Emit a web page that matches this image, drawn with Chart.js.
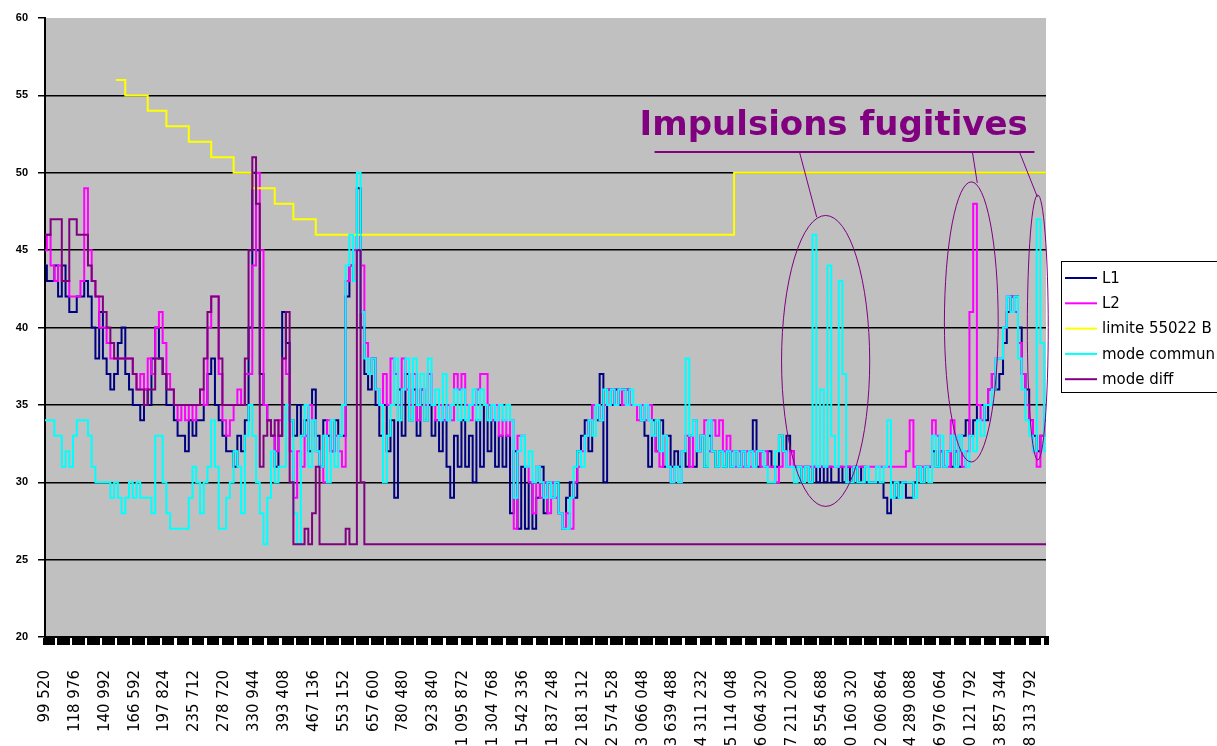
<!DOCTYPE html>
<html lang="fr">
<head>
<meta charset="utf-8">
<title>Émissions conduites</title>
<script src="https://cdn.jsdelivr.net/npm/chart.js@4.4.1/dist/chart.umd.min.js"></script>
<style>
  html, body { margin: 0; padding: 0; background: #fff; overflow: hidden; }
  #wrap { position: relative; width: 1217px; height: 746px; }
  canvas { display: block; }
</style>
</head>
<body>
<div id="wrap"><canvas id="c" width="1217" height="746"></canvas></div>
<script>
// Frequency labels (Hz), one every 8 measurement points
const tickLabels = [
  '99 520', '118 976', '140 992', '166 592', '197 824', '235 712', '278 720', '330 944',
  '393 408', '467 136', '553 152', '657 600', '780 480', '923 840', '1 095 872', '1 304 768',
  '1 542 336', '1 837 248', '2 181 312', '2 574 528', '3 066 048', '3 639 488', '4 311 232', '5 114 048',
  '6 064 320', '7 211 200', '8 554 688', '10 160 320', '12 060 864', '14 289 088', '16 976 064', '20 121 792',
  '23 857 344', '28 313 792'
];

// Levels in dBµV, one row per 8 points
const L1 = [
  44,43,43,44,42,44,42,41,  41,42,42,43,42,40,38,41,  38,37,36,37,39,40,37,36,  35,35,34,36,35,38,40,38,
  37,35,35,34,33,33,32,34,  33,34,34,35,37,38,35,34,  33,32,32,31,33,32,34,40,  50,45,37,35,34,33,31,33,
  41,39,34,33,35,33,34,32,  36,33,31,34,33,32,34,33,  33,42,44,43,49,40,37,36,  38,35,33,35,32,34,29,36,
  33,37,34,36,33,36,34,35,  33,34,32,34,31,29,33,31,  34,31,33,30,34,31,35,32,  34,31,33,31,33,28,32,27,
  31,27,30,27,29,31,28,30,  29,30,28,27,29,30,29,32,  33,34,32,35,34,37,30,36,  35,36,35,36,36,35,35,35,
  34,33,31,34,32,34,31,33,  31,32,31,32,31,33,31,32,  33,31,33,32,31,32,31,32,  31,32,31,32,31,32,34,31,
  32,31,32,31,31,33,32,33,  32,31,31,30,31,30,31,30,  31,30,31,30,30,31,30,31,  30,31,30,31,30,30,30,30,
  30,29,28,30,29,30,30,29,  29,30,31,30,31,31,32,31,  32,31,32,31,32,31,33,34,  33,34,35,35,34,36,37,36,
  37,39,41,42,42,40,37,36,  34,33,32,33,34
];

const L2 = [
  45,46,44,43,44,43,43,42,  42,42,43,49,45,43,42,40,  40,39,38,38,38,38,38,38,  37,36,37,36,38,37,40,41,
  39,37,36,35,34,35,34,35,  34,35,36,35,40,42,42,37,  34,33,34,35,36,35,37,37,  44,50,45,35,34,33,32,34,
  38,37,32,29,32,31,33,35,  34,32,31,30,34,32,33,32,  31,43,44,45,46,44,39,37,  38,36,35,37,35,38,37,35,
  38,36,35,37,34,36,35,37,  35,34,35,34,35,34,37,36,  37,35,34,35,36,37,37,35,  34,35,33,34,33,34,27,33,
  33,31,30,28,31,29,30,28,  30,29,28,27,28,27,30,31,  32,33,34,35,35,34,35,36,  36,35,36,35,36,35,35,34,
  35,34,35,33,32,31,33,31,  30,31,30,32,33,31,34,32,  33,34,32,34,33,34,32,33,  32,31,32,31,32,31,32,32,
  31,32,31,31,30,31,32,31,  32,31,31,31,31,31,31,31,  31,31,31,31,31,31,31,31,  31,31,31,31,31,31,31,31,
  31,31,31,31,31,31,31,32,  34,31,31,31,31,31,34,33,  32,31,31,34,32,33,31,32,  41,48,35,34,35,36,37,38,
  38,40,42,42,41,39,37,35,  34,32,31,33,35
];

// EN 55022 class B limit
const limite = [
  null,null,null,null,null,null,null,null,  null,null,null,null,null,null,null,null,
  null,null,null,56,56,56,55,55,  55,55,55,55,54,54,54,54,
  54,53,53,53,53,53,53,52,  52,52,52,52,52,51,51,51,  51,51,51,50,50,50,50,50,  49,49,49,49,49,49,48,48,
  48,48,48,47,47,47,47,47,  47,46,46,46,46,46,46,46,  46,46,46,46,46,46,46,46,  46,46,46,46,46,46,46,46,
  46,46,46,46,46,46,46,46,  46,46,46,46,46,46,46,46,  46,46,46,46,46,46,46,46,  46,46,46,46,46,46,46,46,
  46,46,46,46,46,46,46,46,  46,46,46,46,46,46,46,46,  46,46,46,46,46,46,46,46,  46,46,46,46,46,46,46,46,
  46,46,46,46,46,46,46,46,  46,46,46,46,46,46,46,46,  46,46,46,46,46,46,46,46,  46,50,50,50,50,50,50,50,
  50,50,50,50,50,50,50,50,  50,50,50,50,50,50,50,50,  50,50,50,50,50,50,50,50,  50,50,50,50,50,50,50,50,
  50,50,50,50,50,50,50,50,  50,50,50,50,50,50,50,50,  50,50,50,50,50,50,50,50,  50,50,50,50,50,50,50,50,
  50,50,50,50,50,50,50,50,  50,50,50,50,50
];

const modeCommun = [
  34,34,34,33,33,31,32,31,  33,34,34,34,33,31,30,30,  30,30,29,30,29,28,29,30,  29,30,29,29,29,28,33,33,
  30,28,27,27,27,27,27,29,  31,30,28,30,31,34,31,27,  27,29,30,32,31,28,33,35,  33,30,28,26,29,32,30,31,
  31,35,34,28,26,33,35,31,  34,32,31,33,30,34,31,33,  35,44,46,43,50,41,38,37,  38,36,35,30,33,35,38,34,
  36,38,34,38,35,37,34,38,  35,36,34,37,34,35,36,34,  36,34,35,36,34,36,35,34,  35,34,35,34,35,34,29,32,
  33,31,32,30,31,30,29,30,  29,30,28,27,27,29,31,32,  31,33,34,33,35,34,36,35,  36,35,36,36,35,36,35,35,
  34,35,34,33,34,32,33,31,  30,31,30,32,38,33,34,32,  33,31,34,32,31,32,31,32,  31,32,31,32,31,32,31,32,
  32,31,30,30,32,33,32,31,  31,30,31,30,31,30,46,31,  36,31,44,33,31,43,37,30,  30,31,30,30,31,30,30,31,
  30,31,34,29,30,29,30,30,  30,29,31,30,31,30,33,31,  33,31,32,33,31,33,32,31,  33,32,34,33,35,35,36,38,
  38,40,42,41,42,38,36,34,  33,32,47,39,32
];

const modeDiff = [
  46,46,47,47,47,43,43,47,  47,46,46,46,44,43,42,42,  41,40,39,38,38,38,38,38,  37,36,36,35,36,36,38,38,
  37,36,36,35,35,35,35,35,  35,35,36,38,41,42,42,38,  35,35,35,35,35,35,38,45,  51,48,31,33,34,33,34,33,
  38,41,30,26,26,26,27,26,  28,31,26,26,26,26,26,26,  26,27,26,26,45,30,26,26,  26,26,26,26,26,26,26,26,
  26,26,26,26,26,26,26,26,  26,26,26,26,26,26,26,26,  26,26,26,26,26,26,26,26,  26,26,26,26,26,26,26,26,
  26,26,26,26,26,26,26,26,  26,26,26,26,26,26,26,26,  26,26,26,26,26,26,26,26,  26,26,26,26,26,26,26,26,
  26,26,26,26,26,26,26,26,  26,26,26,26,26,26,26,26,  26,26,26,26,26,26,26,26,  26,26,26,26,26,26,26,26,
  26,26,26,26,26,26,26,26,  26,26,26,26,26,26,26,26,  26,26,26,26,26,26,26,26,  26,26,26,26,26,26,26,26,
  26,26,26,26,26,26,26,26,  26,26,26,26,26,26,26,26,  26,26,26,26,26,26,26,26,  26,26,26,26,26,26,26,26,
  26,26,26,26,26,26,26,26,  26,26,26,26,26
];

const seriesNames = ['L1', 'L2', 'limite 55022 B', 'mode commun', 'mode diff'];
const seriesColors = ['#000080', '#FF00FF', '#FFFF00', '#00FFFF', '#800080'];
const seriesData = [L1, L2, limite, modeCommun, modeDiff];

// Caption and highlighted zones, in data units (point index, dBµV)
const caption = { text: 'Impulsions fugitives', x: 159.2, y: 52.45 };
const captionRule = { x0: 163.2, x1: 264.9, y: 51.34 };
const leaders = [
  [202.0, 51.34, 206.6, 47.14],
  [248.3, 51.34, 249.6, 49.34],
  [260.9, 51.34, 265.7, 48.43]
];
const rings = [
  { cx: 209.0, cy: 37.84, rx: 11.8, ry: 9.4 },
  { cx: 248.0, cy: 40.36, rx: 7.2, ry: 9.05 },
  { cx: 265.8, cy: 40.0, rx: 2.8, ry: 8.56 }
];

const LABEL_EVERY = 8;
const categories = L1.map((_, i) => (i % LABEL_EVERY === 0 ? (tickLabels[i / LABEL_EVERY] || '') : ''));

const PLOT_BG = '#C0C0C0';
const ACCENT = '#800080';

const plotBackground = {
  id: 'plotBackground',
  beforeDraw(chart) {
    const { ctx, chartArea: a } = chart;
    ctx.save();
    ctx.fillStyle = '#FFFFFF';
    ctx.fillRect(0, 0, chart.width, chart.height);
    ctx.fillStyle = PLOT_BG;
    ctx.fillRect(a.left, a.top, a.right - a.left, a.bottom - a.top);
    ctx.restore();
  }
};

const notes = {
  id: 'notes',
  afterDatasetsDraw(chart) {
    const { ctx } = chart;
    const xs = chart.scales.x, ys = chart.scales.y;
    const px = v => xs.getPixelForValue(v);
    const py = v => ys.getPixelForValue(v);
    ctx.save();
    ctx.strokeStyle = ACCENT;
    ctx.lineWidth = 1;
    rings.forEach(r => {
      const cx = px(r.cx), cy = py(r.cy);
      const rx = Math.abs(px(r.cx + r.rx) - cx), ry = Math.abs(py(r.cy + r.ry) - cy);
      ctx.beginPath();
      ctx.ellipse(cx, cy, rx, ry, 0, 0, Math.PI * 2);
      ctx.stroke();
    });
    leaders.forEach(l => {
      ctx.beginPath();
      ctx.moveTo(px(l[0]), py(l[1]));
      ctx.lineTo(px(l[2]), py(l[3]));
      ctx.stroke();
    });
    ctx.lineWidth = 2;
    ctx.beginPath();
    ctx.moveTo(px(captionRule.x0), py(captionRule.y));
    ctx.lineTo(px(captionRule.x1), py(captionRule.y));
    ctx.stroke();
    ctx.fillStyle = ACCENT;
    ctx.font = 'bold 34px "DejaVu Sans"';
    ctx.textBaseline = 'alphabetic';
    ctx.textAlign = 'left';
    ctx.fillText(caption.text, px(caption.x), py(caption.y));
    ctx.restore();
  }
};

const boxLegend = {
  id: 'boxLegend',
  afterDraw(chart) {
    const { ctx, chartArea: a } = chart;
    const left = a.right + 15, top = 261, height = 131, rowGap = 25.3;
    ctx.save();
    ctx.strokeStyle = '#000';
    ctx.lineWidth = 1;
    ctx.strokeRect(left + 0.5, top + 0.5, 300, height);
    ctx.font = '15px "DejaVu Sans"';
    ctx.textBaseline = 'middle';
    ctx.textAlign = 'left';
    chart.data.datasets.forEach((ds, k) => {
      const y = top + 17 + rowGap * k;
      ctx.strokeStyle = ds.borderColor;
      ctx.lineWidth = 2;
      ctx.beginPath();
      ctx.moveTo(left + 4, y);
      ctx.lineTo(left + 36, y);
      ctx.stroke();
      ctx.fillStyle = '#000';
      ctx.fillText(ds.label, left + 41, y + 1);
    });
    ctx.restore();
  }
};

new Chart(document.getElementById('c'), {
  type: 'line',
  data: {
    labels: categories,
    datasets: seriesData.map((d, k) => ({
      label: seriesNames[k],
      data: d,
      borderColor: seriesColors[k],
      backgroundColor: seriesColors[k],
      borderWidth: 2,
      pointRadius: 0,
      stepped: 'middle',
      fill: false,
      spanGaps: false,
      order: seriesData.length - k
    }))
  },
  options: {
    responsive: false,
    animation: false,
    events: [],
    layout: { padding: { top: 18, right: 171, bottom: 0, left: 0 } },
    plugins: { legend: { display: false }, tooltip: { enabled: false } },
    scales: {
      x: {
        type: 'category',
        offset: false,
        grid: {
          drawOnChartArea: false, drawTicks: true, tickLength: 8,
          lineWidth: 5, tickWidth: 5,
          tickColor: c => (c.index % 4 === 3 ? 'rgba(0,0,0,0)' : '#000')
        },
        border: { display: true, color: '#000', width: 2 },
        ticks: {
          autoSkip: false, minRotation: 90, maxRotation: 90, padding: 25,
          color: '#000', font: { family: 'DejaVu Sans', size: 15 }
        },
        afterFit(scale) { scale.height = 109; }
      },
      y: {
        min: 20, max: 60,
        grid: {
          color: c => (c.tick && c.tick.value === 60 ? 'rgba(0,0,0,0)' : '#000'),
          lineWidth: 1.5, tickColor: '#000', tickLength: 7
        },
        border: { display: true, color: '#000', width: 2 },
        ticks: { stepSize: 5, padding: 10, color: '#000', font: { family: 'Liberation Sans', size: 11, weight: 'bold' } },
        afterFit(scale) { scale.width = 45; }
      }
    }
  },
  plugins: [plotBackground, notes, boxLegend]
});
</script>
</body>
</html>
